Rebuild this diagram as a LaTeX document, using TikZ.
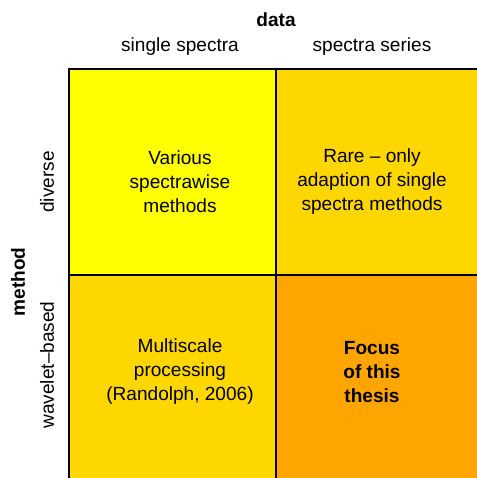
\documentclass[tikz,border=0pt]{standalone}
\usepackage{fontspec}
\setmainfont{Liberation Sans}
\definecolor{cyellow}{RGB}{255,255,0}
\definecolor{cgold}{RGB}{255,215,0}
\definecolor{corange}{RGB}{255,165,0}
\begin{document}
\begin{tikzpicture}[x=0.75pt,y=-0.75pt,
  every node/.style={font=\fontsize{14.3}{18}\selectfont,align=center},
  head/.style={font=\fontsize{14.3}{18}\selectfont\bfseries}]
\useasboundingbox (0,0) rectangle (476,478);
\draw[line width=0.9pt,fill=cyellow] (69,69) rectangle (276,275);
\draw[line width=0.9pt,fill=cgold] (276,69) rectangle (483,275);
\draw[line width=0.9pt,fill=cgold] (69,275) rectangle (276,482);
\draw[line width=0.9pt,fill=corange] (276,275) rectangle (483,482);
\node[head] (data) at (276,20) {data};
\node (single) at (180,47) {single spectra};
\node (series) at (372,47) {spectra series};
\node[head,rotate=90] (method) at (18,282) {method};
\node[rotate=90] (diverse) at (47,182) {diverse};
\node[rotate=90] (wavelet) at (47,365) {wavelet--based};
\node (a) at (180,182) {Various\\spectrawise\\methods};
\node (b) at (372,182) {Rare -- only\\adaption of single\\spectra methods};
\node (c) at (180,372) {Multiscale\\processing\\(Randolph, 2006)};
\node[head,align=center] (d) at (372,372) {Focus\\of this\\thesis};
\end{tikzpicture}
\end{document}
